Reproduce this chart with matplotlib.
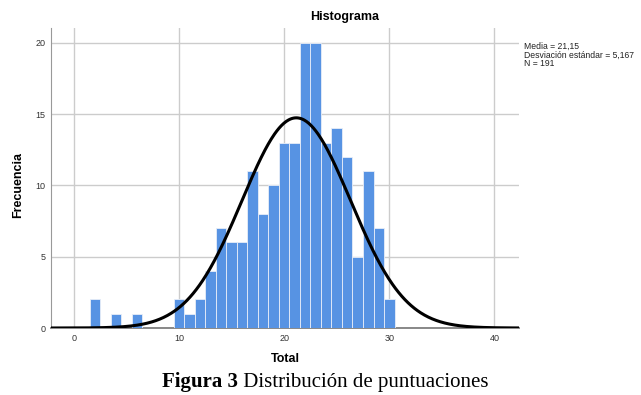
import numpy as np
import matplotlib
matplotlib.use("Agg")
import matplotlib.pyplot as plt

# Frequency of each integer score (bin width 1)
scores = [2, 4, 6, 10, 11, 12, 13, 14, 15, 16, 17, 18, 19, 20, 21, 22, 23, 24, 25, 26, 27, 28, 29, 30]
counts = [2, 1, 1, 2, 1, 2, 4, 7, 6, 6, 11, 8, 10, 13, 13, 20, 20, 13, 14, 12, 5, 11, 7, 2]
media = 21.15
desv = 5.167
n_total = 191
xticks = [0, 10, 20, 30, 40]
yticks = [0, 5, 10, 15, 20]

plt.rcParams['font.family'] = ['Liberation Sans', 'DejaVu Sans']

fig = plt.figure(figsize=(6.41, 3.95), dpi=100)
ax = fig.add_axes([51 / 641, 1 - 328 / 395, (519 - 51) / 641, 300 / 395])

ax.bar(scores, counts, width=1.0, color='#5793e3', edgecolor='#e8eef8', linewidth=0.6, zorder=3)

# normal curve scaled to the histogram (N * bin width)
xlo, xhi = -2.2, 42.35
xs = np.linspace(xlo, xhi, 600)
ys = n_total / (desv * np.sqrt(2 * np.pi)) * np.exp(-0.5 * ((xs - media) / desv) ** 2)
ax.plot(xs, ys, color='black', lw=2.2, zorder=4)

ax.set_xlim(xlo, xhi)
ax.set_ylim(0, 21.05)
ax.set_xticks(xticks)
ax.set_yticks(yticks)
ax.grid(True, color='#cccccc', lw=1.0, zorder=0)
ax.tick_params(length=0, labelsize=6.5, colors='#333333', pad=4)
for s in ['top', 'right']:
    ax.spines[s].set_visible(False)
ax.spines['left'].set_color('#999999')
ax.spines['bottom'].set_color('#888888')
ax.spines['bottom'].set_linewidth(1.4)

fig.text(345 / 641, 1 - 17 / 395, 'Histograma', ha='center', va='center', fontsize=9, fontweight='bold')
fig.text(18 / 641, 1 - 185 / 395, 'Frecuencia', ha='center', va='center', rotation=90, fontsize=9, fontweight='bold')
fig.text(285 / 641, 1 - 359 / 395, 'Total', ha='center', va='center', fontsize=9, fontweight='bold')

stats = 'Media = {:.2f}\nDesviación estándar = {:.3f}\nN = {}'.format(media, desv, n_total).replace('.', ',')
fig.text(524 / 641, 1 - 42 / 395, stats, ha='left', va='top', fontsize=6.2, linespacing=0.95, color='#222222')

# caption: bold "Figura 3" followed by regular text
t1 = fig.text(162 / 641, 1 - 387 / 395, 'Figura 3', ha='left', va='baseline',
              fontsize=15, fontweight='bold', family='Liberation Serif')
ax.annotate(' Distribución de puntuaciones', xy=(1, 0), xycoords=t1, ha='left', va='bottom',
            fontsize=15, family='Liberation Serif', annotation_clip=False)

fig.savefig('out.png', dpi=100)
